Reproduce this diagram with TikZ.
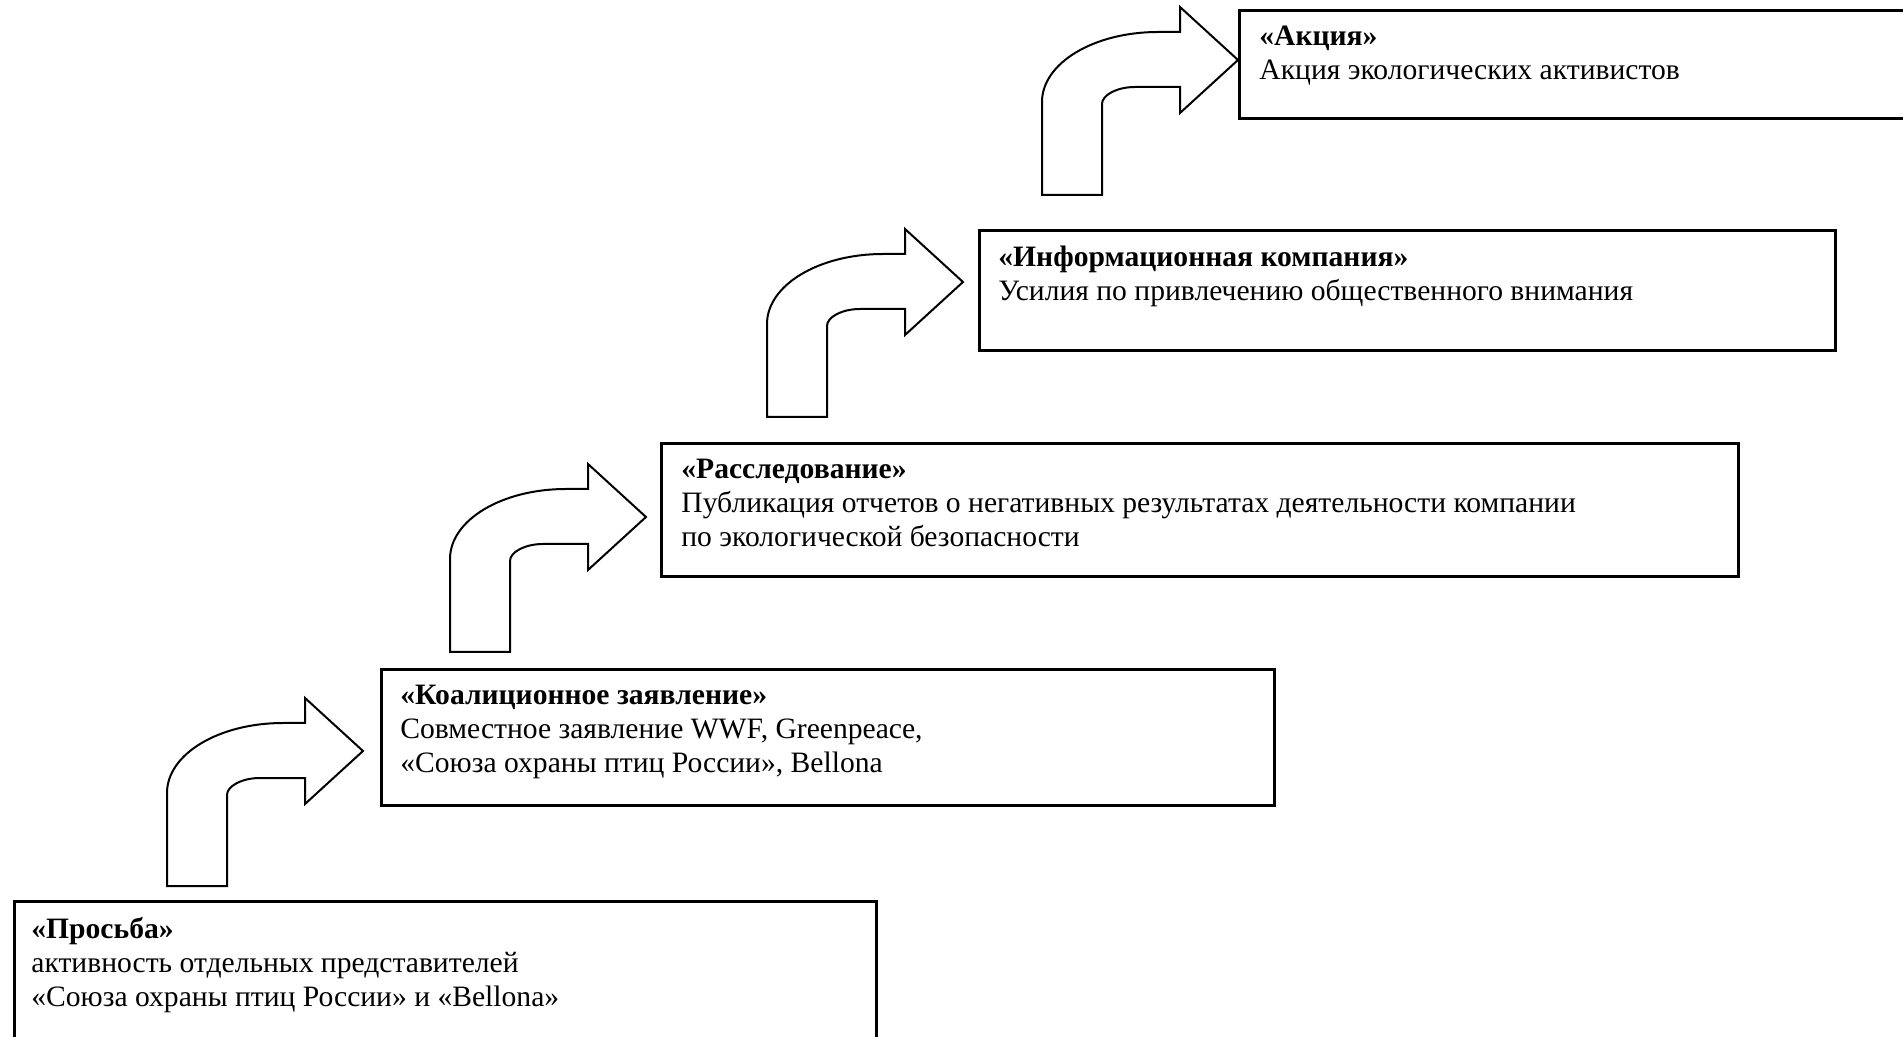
\documentclass[tikz,border=0pt]{standalone}
\usepackage{fontspec}
\setmainfont{Liberation Serif}
\usetikzlibrary{calc}
\begin{document}
% one drawing unit is one pixel (0.5pt); y grows downwards
\begin{tikzpicture}[x=0.5pt,y=-0.5pt,
  stagebox/.style={draw=black,line width=1.5pt,fill=white,rectangle,inner sep=0pt,anchor=north west},
  stagetext/.style={anchor=north west,inner sep=0pt,align=left,
    font=\fontsize{14.8pt}{17pt}\selectfont},
  bentarrow/.pic={
    \draw[line width=1pt,line join=miter,fill=white]
      (0,0) -- (0,-93) .. controls (0,-132) and (52,-163) .. (116,-163)
      -- (138,-163) -- (138,-188) -- (196,-135) -- (138,-82) -- (138,-108)
      -- (93,-108) .. controls (75,-108) and (60,-100) .. (60,-91)
      -- (60,0) -- cycle;
  }]
\useasboundingbox (0,0) rectangle (1903,1037);
\clip (0,0) rectangle (1903,1037);

% stage boxes, from the first step up to the last (sizes in pt)
\node[stagebox,minimum width=431pt,minimum height=80pt] (b1) at (13,900) {};
\node[stagebox,minimum width=446.5pt,minimum height=68pt] (b2) at (380,668) {};
\node[stagebox,minimum width=538.5pt,minimum height=66.5pt] (b3) at (660,442) {};
\node[stagebox,minimum width=428pt,minimum height=60pt] (b4) at (978,229) {};
\node[stagebox,minimum width=340pt,minimum height=54pt] (b5) at (1238,9) {};

\node[stagetext] (t1) at ($(b1.north west)+(18,17)$)
  {\textbf{«Просьба»}\\активность отдельных представителей\\«Союза охраны птиц России» и «Bellona»};
\node[stagetext] (t2) at ($(b2.north west)+(20,17)$)
  {\textbf{«Коалиционное заявление»}\\Совместное заявление WWF, Greenpeace,\\«Союза охраны птиц России», Bellona};
\node[stagetext] (t3) at ($(b3.north west)+(21,17)$)
  {\textbf{«Расследование»}\\Публикация отчетов о негативных результатах деятельности компании\\по экологической безопасности};
\node[stagetext] (t4) at ($(b4.north west)+(20,17)$)
  {\textbf{«Информационная компания»}\\Усилия по привлечению общественного внимания};
\node[stagetext] (t5) at ($(b5.north west)+(21,17)$)
  {\textbf{«Акция»}\\Акция экологических активистов};

% bent block arrows leading from one step to the next
\pic at (167,886) {bentarrow};
\pic at (450,652) {bentarrow};
\pic at (767,417) {bentarrow};
\pic at (1042,195) {bentarrow};
\end{tikzpicture}
\end{document}
